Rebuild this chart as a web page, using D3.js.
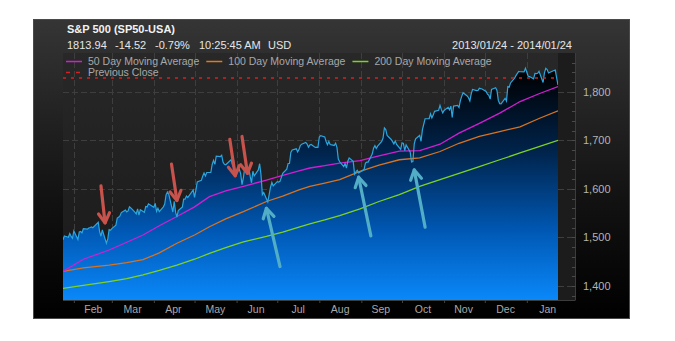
<!DOCTYPE html>
<html><head><meta charset="utf-8">
<script src="https://cdn.jsdelivr.net/npm/d3@7"></script>
<style>
html,body{margin:0;padding:0;background:#fff;}
svg{display:block;font-family:"Liberation Sans",Arial,sans-serif;}
</style></head>
<body>
<svg id="chart" width="675" height="341"></svg>
<script>
// ---------- DATA ----------
const dates = [
"2013-01-24","2013-01-25","2013-01-28","2013-01-29","2013-01-30","2013-01-31",
"2013-02-01","2013-02-04","2013-02-05","2013-02-06","2013-02-07","2013-02-08","2013-02-11","2013-02-12","2013-02-13","2013-02-14","2013-02-15","2013-02-19","2013-02-20","2013-02-21","2013-02-22","2013-02-25","2013-02-26","2013-02-27","2013-02-28",
"2013-03-01","2013-03-04","2013-03-05","2013-03-06","2013-03-07","2013-03-08","2013-03-11","2013-03-12","2013-03-13","2013-03-14","2013-03-15","2013-03-18","2013-03-19","2013-03-20","2013-03-21","2013-03-22","2013-03-25","2013-03-26","2013-03-27","2013-03-28",
"2013-04-01","2013-04-02","2013-04-03","2013-04-04","2013-04-05","2013-04-08","2013-04-09","2013-04-10","2013-04-11","2013-04-12","2013-04-15","2013-04-16","2013-04-17","2013-04-18","2013-04-19","2013-04-22","2013-04-23","2013-04-24","2013-04-25","2013-04-26","2013-04-29","2013-04-30",
"2013-05-01","2013-05-02","2013-05-03","2013-05-06","2013-05-07","2013-05-08","2013-05-09","2013-05-10","2013-05-13","2013-05-14","2013-05-15","2013-05-16","2013-05-17","2013-05-20","2013-05-21","2013-05-22","2013-05-23","2013-05-24","2013-05-28","2013-05-29","2013-05-30","2013-05-31",
"2013-06-03","2013-06-04","2013-06-05","2013-06-06","2013-06-07","2013-06-10","2013-06-11","2013-06-12","2013-06-13","2013-06-14","2013-06-17","2013-06-18","2013-06-19","2013-06-20","2013-06-21","2013-06-24","2013-06-25","2013-06-26","2013-06-27","2013-06-28",
"2013-07-01","2013-07-02","2013-07-03","2013-07-05","2013-07-08","2013-07-09","2013-07-10","2013-07-11","2013-07-12","2013-07-15","2013-07-16","2013-07-17","2013-07-18","2013-07-19","2013-07-22","2013-07-23","2013-07-24","2013-07-25","2013-07-26","2013-07-29","2013-07-30","2013-07-31",
"2013-08-01","2013-08-02","2013-08-05","2013-08-06","2013-08-07","2013-08-08","2013-08-09","2013-08-12","2013-08-13","2013-08-14","2013-08-15","2013-08-16","2013-08-19","2013-08-20","2013-08-21","2013-08-22","2013-08-23","2013-08-26","2013-08-27","2013-08-28","2013-08-29","2013-08-30",
"2013-09-03","2013-09-04","2013-09-05","2013-09-06","2013-09-09","2013-09-10","2013-09-11","2013-09-12","2013-09-13","2013-09-16","2013-09-17","2013-09-18","2013-09-19","2013-09-20","2013-09-23","2013-09-24","2013-09-25","2013-09-26","2013-09-27","2013-09-30",
"2013-10-01","2013-10-02","2013-10-03","2013-10-04","2013-10-07","2013-10-08","2013-10-09","2013-10-10","2013-10-11","2013-10-14","2013-10-15","2013-10-16","2013-10-17","2013-10-18","2013-10-21","2013-10-22","2013-10-23","2013-10-24","2013-10-25","2013-10-28","2013-10-29","2013-10-30","2013-10-31",
"2013-11-01","2013-11-04","2013-11-05","2013-11-06","2013-11-07","2013-11-08","2013-11-11","2013-11-12","2013-11-13","2013-11-14","2013-11-15","2013-11-18","2013-11-19","2013-11-20","2013-11-21","2013-11-22","2013-11-25","2013-11-26","2013-11-27","2013-11-29",
"2013-12-02","2013-12-03","2013-12-04","2013-12-05","2013-12-06","2013-12-09","2013-12-10","2013-12-11","2013-12-12","2013-12-13","2013-12-16","2013-12-17","2013-12-18","2013-12-19","2013-12-20","2013-12-23","2013-12-24","2013-12-26","2013-12-27","2013-12-30","2013-12-31",
"2014-01-02","2014-01-03","2014-01-06","2014-01-07","2014-01-08","2014-01-09","2014-01-10","2014-01-13","2014-01-14","2014-01-15","2014-01-16","2014-01-17","2014-01-21","2014-01-22","2014-01-23","2014-01-24"
];
const closes = [
1494.82,1502.96,1500.18,1507.84,1501.96,1498.11,
1513.17,1495.71,1511.29,1512.12,1509.39,1517.93,1517.01,1519.43,1520.33,1521.38,1519.79,1530.94,1511.95,1502.42,1515.60,1487.85,1496.94,1515.99,1514.68,
1518.20,1525.20,1539.79,1541.46,1544.26,1551.18,1556.22,1552.48,1554.52,1563.23,1560.70,1552.10,1548.34,1558.71,1545.80,1556.89,1551.69,1563.77,1562.85,1569.19,
1562.17,1570.25,1553.69,1559.98,1553.28,1563.07,1568.61,1587.73,1593.37,1588.85,1552.36,1574.57,1552.01,1541.61,1555.25,1562.50,1578.78,1578.79,1585.16,1582.24,1593.61,1597.57,
1582.70,1597.59,1614.42,1617.50,1625.96,1632.69,1626.67,1633.70,1633.77,1650.34,1658.78,1650.47,1667.47,1666.29,1669.16,1655.35,1650.51,1649.60,1660.06,1648.36,1654.41,1630.74,
1640.42,1631.38,1608.90,1622.56,1643.38,1642.81,1626.13,1612.52,1636.36,1626.73,1639.04,1651.81,1628.93,1588.19,1592.43,1573.09,1588.03,1603.26,1613.20,1606.28,
1614.96,1614.08,1615.41,1631.89,1640.46,1652.32,1652.62,1675.02,1680.19,1682.50,1676.26,1680.91,1689.37,1692.09,1695.53,1692.39,1685.94,1690.25,1691.65,1685.33,1685.96,1685.73,
1706.87,1709.67,1707.14,1697.37,1690.91,1697.48,1691.42,1689.47,1694.16,1685.39,1661.32,1655.83,1646.06,1652.35,1642.80,1656.96,1663.50,1656.78,1630.48,1634.96,1638.17,1632.97,
1639.77,1653.08,1655.08,1655.17,1671.71,1683.99,1689.13,1683.42,1687.99,1697.60,1704.76,1725.52,1722.34,1709.91,1701.84,1697.42,1692.77,1698.67,1691.75,1681.55,
1695.00,1693.87,1678.66,1690.50,1676.12,1655.45,1656.40,1692.56,1703.20,1710.14,1698.06,1721.54,1733.15,1744.50,1744.66,1754.67,1746.38,1752.07,1759.77,1762.11,1771.95,1763.31,1756.54,
1761.64,1767.93,1762.97,1770.49,1747.15,1770.61,1771.89,1767.69,1782.00,1790.62,1798.18,1791.53,1787.87,1781.37,1795.85,1804.76,1802.48,1802.75,1807.23,1805.81,
1800.90,1795.15,1792.81,1785.03,1805.09,1808.37,1802.62,1782.22,1775.50,1775.32,1786.54,1781.00,1810.65,1809.60,1818.32,1827.99,1833.32,1842.02,1841.40,1841.07,1848.36,
1831.98,1831.37,1826.77,1837.88,1837.49,1838.13,1842.37,1819.20,1838.88,1848.38,1845.89,1838.70,1843.80,1844.86,1828.46,1813.94
];
// moving averages
const maDates = ["2013-01-24","2013-02-08","2013-02-27","2013-03-12","2013-03-24","2013-04-05","2013-04-18","2013-05-01","2013-05-12","2013-05-24","2013-06-06","2013-06-23","2013-07-05","2013-07-17","2013-07-25","2013-08-05","2013-08-16","2013-08-31","2013-09-14","2013-09-29","2013-10-14","2013-10-29","2013-11-12","2013-11-27","2013-12-12","2013-12-27","2014-01-10","2014-01-24"];
const ma50  = [1430,1455,1474,1490,1505,1524,1543,1563,1584,1596,1605,1618,1628,1637,1643,1648,1653,1658,1668,1678,1679,1692,1715,1735,1756,1780,1796,1811];
const ma100 = [1430,1437,1443,1448,1454,1468,1488,1505,1522,1538,1553,1574,1585,1598,1605,1612,1619,1636,1649,1660,1664,1677,1694,1708,1718,1728,1745,1761];
const ma200 = [1395,1401,1409,1415,1423,1432,1443,1455,1467,1479,1491,1502,1511,1521,1528,1536,1545,1559,1574,1588,1605,1619,1632,1646,1660,1674,1687,1700];
const previousClose = 1828.46;
const yTicks = [1400,1500,1600,1700,1800];
const monthLabels = ["Feb","Mar","Apr","May","Jun","Jul","Aug","Sep","Oct","Nov","Dec","Jan"];
const monthMid = ["2013-02-15","2013-03-16","2013-04-15","2013-05-16","2013-06-15","2013-07-16","2013-08-16","2013-09-15","2013-10-16","2013-11-15","2013-12-16","2014-01-16"];
const legendItems = ["50 Day Moving Average","100 Day Moving Average","200 Day Moving Average"];
// annotation arrows: tail -> tip (date, value)
const redArrows = [
 {tail:["2013-02-21",1606],tip:["2013-02-24",1530]},
 {tail:["2013-04-14",1651],tip:["2013-04-18",1576]},
 {tail:["2013-05-27",1702],tip:["2013-05-31",1627]},
 {tail:["2013-06-05",1708],tip:["2013-06-09",1632]}
];
const blueArrows = [
 {tail:["2013-07-03",1440],tip:["2013-06-23",1560]},
 {tail:["2013-09-08",1503],tip:["2013-08-30",1624]},
 {tail:["2013-10-18",1521],tip:["2013-10-10",1639]}
];

// ---------- CHART ----------
const parse = d3.timeParse("%Y-%m-%d");
const svg = d3.select("#chart");
const P = {x:33, y:19, w:596, h:299};
const L = 63, R = 558, T = 53, B = 300, AX = 575;

const x = d3.scaleTime().domain([parse("2013-01-24"), parse("2014-01-24")]).range([L, R]);
const y = d3.scaleLinear().domain([1371, 1880]).range([B, T]);

const defs = svg.append("defs");
const g1 = defs.append("linearGradient").attr("id","panelGrad").attr("x1",0).attr("y1",0).attr("x2",0).attr("y2",1);
g1.append("stop").attr("offset",0).attr("stop-color","#353535");
g1.append("stop").attr("offset",0.6).attr("stop-color","#121212");
g1.append("stop").attr("offset",1).attr("stop-color","#000");
const g2 = defs.append("linearGradient").attr("id","plotGrad").attr("x1",0).attr("y1",0).attr("x2",0).attr("y2",1);
g2.append("stop").attr("offset",0).attr("stop-color","#282828");
g2.append("stop").attr("offset",1).attr("stop-color","#191919");
const g3 = defs.append("linearGradient").attr("id","areaGrad").attr("gradientUnits","userSpaceOnUse")
  .attr("x1",0).attr("y1",70).attr("x2",0).attr("y2",B);
g3.append("stop").attr("offset",0).attr("stop-color","#000000");
g3.append("stop").attr("offset",0.35).attr("stop-color","#00234a");
g3.append("stop").attr("offset",0.7).attr("stop-color","#0058b4");
g3.append("stop").attr("offset",1).attr("stop-color","#0a88fa");
defs.append("clipPath").attr("id","clip").append("rect").attr("x",L).attr("y",T).attr("width",R-L).attr("height",B-T);

// panel
svg.append("rect").attr("x",P.x+0.5).attr("y",P.y+0.5).attr("width",P.w).attr("height",P.h)
  .attr("fill","url(#panelGrad)").attr("stroke","#4a4a4a");
// plot bg and axis strip
svg.append("rect").attr("x",L).attr("y",T).attr("width",R-L).attr("height",B-T).attr("fill","url(#plotGrad)");
svg.append("rect").attr("x",R).attr("y",T).attr("width",AX-R).attr("height",B-T).attr("fill","#1c1c1c");
svg.append("line").attr("x1",AX+0.5).attr("x2",AX+0.5).attr("y1",T).attr("y2",B).attr("stroke","#3c3c3c");
svg.append("line").attr("x1",L).attr("x2",AX+0.5).attr("y1",B+0.5).attr("y2",B+0.5).attr("stroke","#3c3c3c");

// grid
const months = d3.timeMonth.range(parse("2013-02-01"), parse("2014-01-25"));
svg.append("g").selectAll("line").data(months).join("line")
  .attr("x1",d=>Math.round(x(d))+0.5).attr("x2",d=>Math.round(x(d))+0.5).attr("y1",T).attr("y2",B)
  .attr("stroke","#3e3e3e").attr("stroke-dasharray","6,3");
svg.append("g").selectAll("line").data(yTicks).join("line")
  .attr("x1",L).attr("x2",AX).attr("y1",d=>Math.round(y(d))+0.5).attr("y2",d=>Math.round(y(d))+0.5)
  .attr("stroke","#3e3e3e").attr("stroke-dasharray","6,3");

// data
const pts = dates.map((d,i)=>({date:parse(d), v:closes[i]}));
const plotG = svg.append("g").attr("clip-path","url(#clip)");
plotG.append("path").datum(pts)
  .attr("d", d3.area().x(d=>x(d.date)).y0(B).y1(d=>y(d.v)))
  .attr("fill","url(#areaGrad)");
const maLine = d3.line().x(d=>x(d.date)).y(d=>y(d.v));
[[ma200,"#7ed321"],[ma100,"#d8731f"],[ma50,"#d21ed2"]].forEach(([arr,c])=>{
  plotG.append("path").datum(maDates.map((d,i)=>({date:parse(d), v:arr[i]})))
    .attr("d", maLine).attr("fill","none").attr("stroke",c).attr("stroke-width",1.3);
});
plotG.append("path").datum(pts).attr("d", maLine)
  .attr("fill","none").attr("stroke","#2aa6e0").attr("stroke-width",1.2);
plotG.append("line").attr("x1",L).attr("x2",R).attr("y1",y(previousClose)).attr("y2",y(previousClose))
  .attr("stroke","#d42222").attr("stroke-width",1.5).attr("stroke-dasharray","3,5");

// y axis (right)
const yAxis = d3.axisRight(y).tickValues(yTicks).tickFormat(d3.format(",")).tickSize(0).tickPadding(8);
const ya = svg.append("g").attr("transform",`translate(${AX},0)`).call(yAxis);
ya.select(".domain").remove();
ya.selectAll("text").attr("fill","#b4b4b4").attr("font-size","11px").attr("font-family","Liberation Sans, Arial, sans-serif");
const minor = d3.range(1380, 1861, 20);
svg.append("g").selectAll("line").data(minor).join("line")
  .attr("x1",AX-3).attr("x2",AX+0.5).attr("y1",d=>Math.round(y(d))+0.5).attr("y2",d=>Math.round(y(d))+0.5)
  .attr("stroke","#4a4a4a");

// x axis
const xTickAxis = d3.axisBottom(x).tickValues(months).tickSize(3).tickFormat("");
const xt = svg.append("g").attr("transform",`translate(0,${B})`).call(xTickAxis);
xt.select(".domain").remove();
xt.selectAll("line").attr("stroke","#444");
const xLab = d3.axisBottom(x).tickValues(monthMid.map(parse)).tickSize(0).tickPadding(6)
  .tickFormat((d,i)=>monthLabels[i]);
const xl = svg.append("g").attr("transform",`translate(0,${B})`).call(xLab);
xl.select(".domain").remove();
xl.selectAll("text").attr("fill","#a8a8a8").attr("font-size","10.5px").attr("font-family","Liberation Sans, Arial, sans-serif");

// arrows
function drawArrow(a, color, len){
  const x1=x(parse(a.tail[0])), y1=y(a.tail[1]), x2=x(parse(a.tip[0])), y2=y(a.tip[1]);
  const ang=Math.atan2(y1-y2,x1-x2), h=11, s=Math.PI/6;
  const g=svg.append("g").attr("stroke",color).attr("stroke-width",3.2).attr("fill","none").attr("stroke-linecap","round").attr("stroke-linejoin","round");
  g.append("line").attr("x1",x1).attr("y1",y1).attr("x2",x2).attr("y2",y2);
  g.append("polyline").attr("points",[
    [x2+h*Math.cos(ang+s), y2+h*Math.sin(ang+s)],[x2,y2],[x2+h*Math.cos(ang-s), y2+h*Math.sin(ang-s)]
  ].map(p=>p.join(",")).join(" "));
}
redArrows.forEach(a=>drawArrow(a,"#c8524c"));
blueArrows.forEach(a=>drawArrow(a,"#52aec6"));

// header text
const font = "Liberation Sans, Arial, sans-serif";
svg.append("text").attr("x",67).attr("y",33).text("S&P 500 (SP50-USA)")
  .attr("fill","#f2f2f2").attr("font-size","11px").attr("font-weight","bold").attr("font-family",font);
const quote = [["1813.94",67],["-14.52",115],["-0.79%",155],["10:25:45 AM",199],["USD",268]];
svg.append("g").selectAll("text").data(quote).join("text")
  .attr("x",d=>d[1]).attr("y",49).text(d=>d[0])
  .attr("fill","#e6e6e6").attr("font-size","11px").attr("font-family",font);
svg.append("text").attr("x",572).attr("y",49).attr("text-anchor","end").text("2013/01/24 - 2014/01/24")
  .attr("fill","#e6e6e6").attr("font-size","11px").attr("font-family",font);

// legend
const legColors = ["#d21ed2","#e07a1f","#7ed321"];
let lx = 66;
legendItems.forEach((t,i)=>{
  svg.append("line").attr("x1",lx).attr("x2",lx+16).attr("y1",61.5).attr("y2",61.5).attr("stroke",legColors[i]).attr("stroke-width",1.5);
  const tx = svg.append("text").attr("x",lx+22).attr("y",65).text(t)
    .attr("fill","#a8a8a8").attr("font-size","10.5px").attr("font-family",font);
  lx = lx + 22 + tx.node().getComputedTextLength() + 7;
});
svg.append("line").attr("x1",66).attr("x2",82).attr("y1",72.5).attr("y2",72.5)
  .attr("stroke","#d42222").attr("stroke-width",1.5).attr("stroke-dasharray","4,6");
svg.append("text").attr("x",88).attr("y",76).text("Previous Close")
  .attr("fill","#a8a8a8").attr("font-size","10.5px").attr("font-family",font);
</script>
</body></html>
